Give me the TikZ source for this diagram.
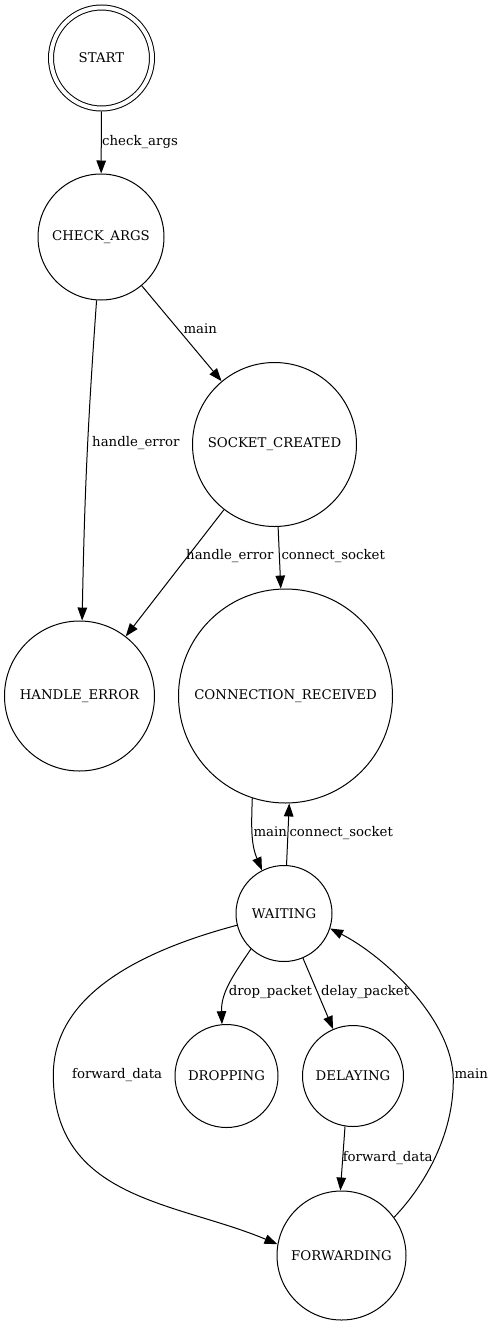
\documentclass[tikz,border=0pt]{standalone}
\usepackage{fontspec}
\setmainfont{DejaVu Serif}
\usetikzlibrary{arrows.meta}
\begin{document}
\begin{tikzpicture}[x=1pt,y=1pt,
  state/.style={circle,draw,line width=1pt,inner sep=0pt,font=\fontsize{13.3}{16}\selectfont},
  edge/.style={line width=1pt,-{Triangle[length=13pt,width=9.5pt]}},
  lbl/.style={inner sep=0pt,anchor=west,font=\fontsize{13.3}{16}\selectfont,text height=9pt,text depth=3pt}]
\useasboundingbox (0,0) rectangle (493,-1325);
\node[state,minimum size=101pt,double,double distance=4pt] (start) at (101.5,-58) {START};
\node[state,minimum size=126pt] (check) at (101,-237) {CHECK\_ARGS};
\node[state,minimum size=164pt] (socket) at (274.5,-444.5) {SOCKET\_CREATED};
\node[state,minimum size=150pt] (herr) at (79.5,-696) {HANDLE\_ERROR};
\node[state,minimum size=214pt] (cr) at (285.5,-696) {CONNECTION\_RECEIVED};
\node[state,minimum size=96pt] (wait) at (284,-913.5) {WAITING};
\node[state,minimum size=103pt] (drop) at (226.5,-1076) {DROPPING};
\node[state,minimum size=101pt] (delay) at (353,-1076) {DELAYING};
\node[state,minimum size=129pt] (fwd) at (341.5,-1255.5) {FORWARDING};

\draw[edge,shorten <=2.5pt] (start) -- (check) node[lbl] at (101.7,-142) {check\_args};
\draw[edge] (check.-94) to[bend right=1.5] (herr.88) node[lbl] at (91.7,-443.3) {handle\_error};
\draw[edge] (check) -- (socket) node[lbl] at (183,-330.7) {main};
\draw[edge] (socket) -- (herr) node[lbl] at (185.7,-556.7) {handle\_error};
\draw[edge] (socket) -- (cr) node[lbl] at (281,-556.7) {connect\_socket};
\draw[edge] (cr.-108) to[out=-92,in=113] (wait.117) node[lbl] at (253,-833.3) {main};
\draw[edge] (wait.87) -- (cr.-88.5) node[lbl] at (289,-833.3) {connect\_socket};
\draw[edge] (wait.-166) .. controls (140,-951) and (53.3,-995) .. (53.3,-1075) .. controls (53.3,-1200) and (176.5,-1201.8) .. (fwd.170) node[lbl] at (71.7,-1075) {forward\_data};
\draw[edge] (wait.-133) to[out=-124,in=92] (drop.95) node[lbl] at (228.3,-992.3) {drop\_packet};
\draw[edge] (wait) -- (delay) node[lbl] at (320.7,-992.3) {delay\_packet};
\draw[edge] (delay.-99) -- (fwd.91) node[lbl] at (342.3,-1158.3) {forward\_data};
\draw[edge] (fwd.36) .. controls (425,-1185) and (453.3,-1135) .. (453.3,-1080) .. controls (453.3,-1020) and (383.5,-955.5) .. (wait.-18) node[lbl] at (454,-1075) {main};
\end{tikzpicture}
\end{document}
